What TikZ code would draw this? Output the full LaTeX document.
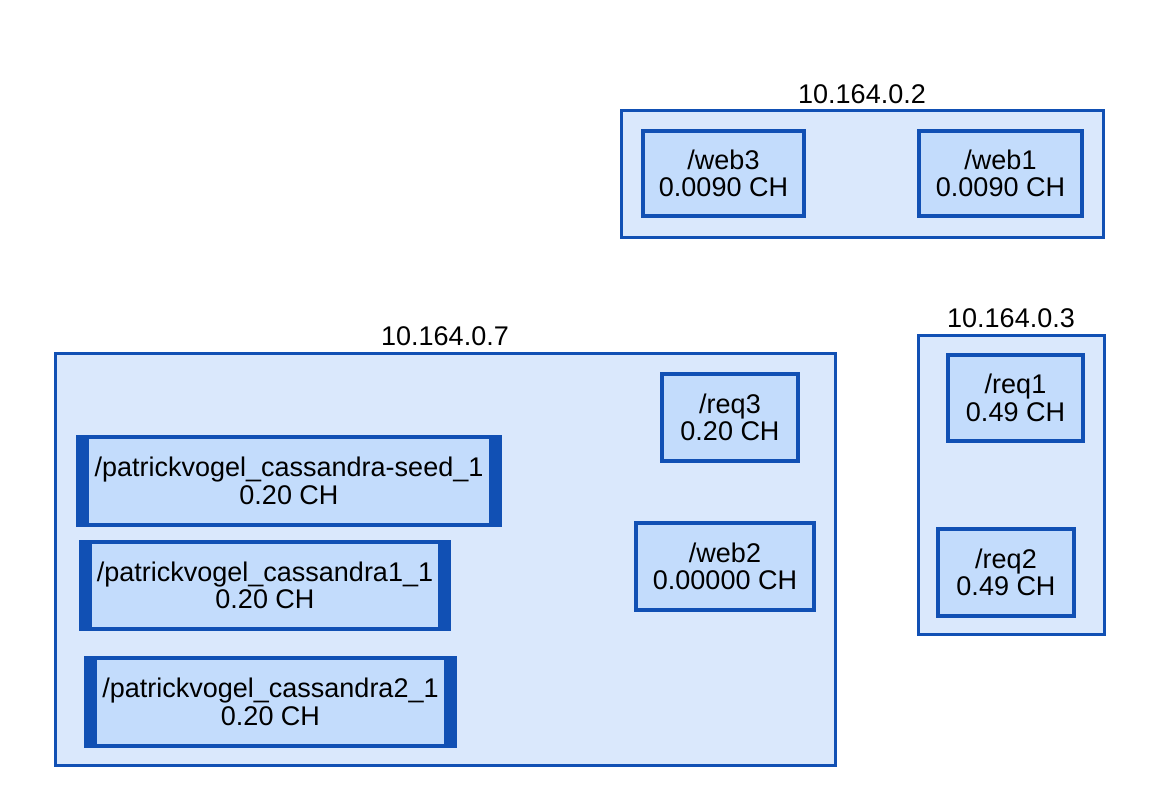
\documentclass[tikz,border=0pt]{standalone}
\usepackage{fontspec}
\setmainfont{Liberation Sans}
\usepackage{xcolor}
\usetikzlibrary{positioning}
\definecolor{hostfill}{HTML}{DAE8FC}
\definecolor{podfill}{HTML}{C3DCFC}
\definecolor{edgeblue}{HTML}{1150B4}

\begin{document}
\begin{tikzpicture}[x=0.5pt,y=-0.5pt,
	host/.style={rectangle,draw=edgeblue,line width=1.5pt,fill=hostfill,inner sep=0pt},
	pod/.style={rectangle,draw=edgeblue,line width=1.9pt,fill=podfill,inner sep=0pt,align=center,font=\fontsize{13.5}{13.8}\selectfont},
	widepod/.style={pod,path picture={
		\fill[edgeblue] (path picture bounding box.north west) rectangle ([xshift=5.5pt]path picture bounding box.south west);
		\fill[edgeblue] (path picture bounding box.north east) rectangle ([xshift=-5.5pt]path picture bounding box.south east);}},
	hostlabel/.style={inner sep=0pt,font=\fontsize{13.5}{13.8}\selectfont}]
	\useasboundingbox (0,0) rectangle (1152,808);
	% hosts
	\node[host,minimum width=241pt,minimum height=63pt] (h2) at (862,174) {};
	\node[host,minimum width=93pt,minimum height=149.5pt] (h3) at (1011,484.5) {};
	\node[host,minimum width=390pt,minimum height=206pt] (h7) at (445,559) {};
	\node[hostlabel,above=2.5pt of h2] (h2lbl) {10.164.0.2};
	\node[hostlabel,above=2.5pt of h3] (h3lbl) {10.164.0.3};
	\node[hostlabel,above=2.5pt of h7] (h7lbl) {10.164.0.7};
	% containers on 10.164.0.2
	\node[pod,minimum width=80.5pt,minimum height=42.5pt] (web3) at (723.5,173.5) {/web3\\0.0090 CH};
	\node[pod,minimum width=81.5pt,minimum height=42.5pt] (web1) at (1000.5,173.5) {/web1\\0.0090 CH};
	% containers on 10.164.0.3
	\node[pod,minimum width=67.5pt,minimum height=43pt] (req1) at (1015.5,398) {/req1\\0.49 CH};
	\node[pod,minimum width=68pt,minimum height=43.5pt] (req2) at (1006,572.5) {/req2\\0.49 CH};
	% containers on 10.164.0.7
	\node[pod,minimum width=68pt,minimum height=43.5pt] (req3) at (730,417.5) {/req3\\0.20 CH};
	\node[pod,minimum width=89pt,minimum height=43.5pt] (web2) at (725,566.5) {/web2\\0.00000 CH};
	\node[widepod,minimum width=211pt,minimum height=44pt] (seed) at (289,481) {/patrickvogel\_cassandra-seed\_1\\0.20 CH};
	\node[widepod,minimum width=184pt,minimum height=43.5pt] (cas1) at (265,585.5) {/patrickvogel\_cassandra1\_1\\0.20 CH};
	\node[widepod,minimum width=184.5pt,minimum height=44pt] (cas2) at (270.5,702) {/patrickvogel\_cassandra2\_1\\0.20 CH};
\end{tikzpicture}
\end{document}
